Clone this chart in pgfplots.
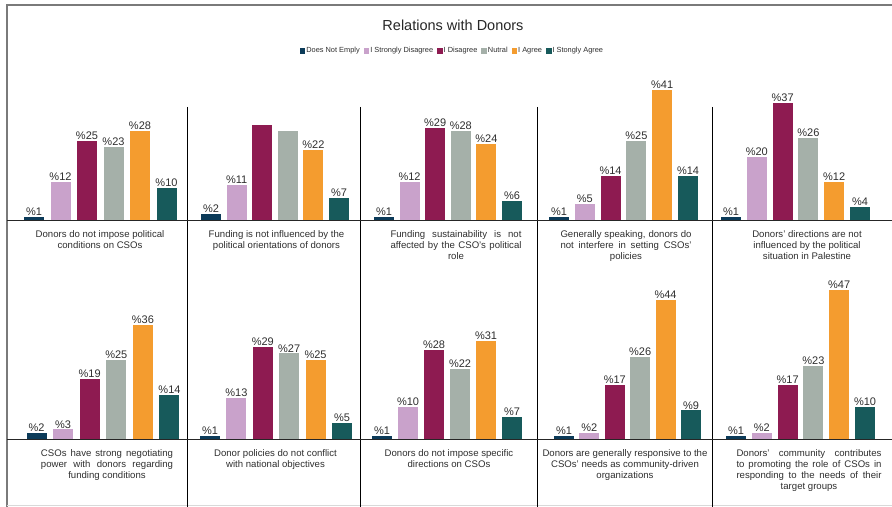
\documentclass[border=0pt]{standalone}
\usepackage{fontspec}
\setmainfont{Liberation Sans}
\usepackage{pgfplots}
\pgfplotsset{compat=1.18}

\definecolor{cNA}{HTML}{0C3B59}
\definecolor{cSD}{HTML}{C9A2CB}
\definecolor{cD}{HTML}{8E1B51}
\definecolor{cN}{HTML}{A5B0A9}
\definecolor{cA}{HTML}{F49C2F}
\definecolor{cSA}{HTML}{175A5B}
\definecolor{lab}{HTML}{2E2E2E}
\definecolor{frame}{HTML}{7A7A7A}

\newcommand\tfont{\fontsize{9.6bp}{11bp}\selectfont}

\pgfplotsset{
  sqleg/.style={legend image code/.code={\fill[##1] (0bp,-2.75bp) rectangle (5.5bp,2.75bp);}},
  panel/.style={hide axis, scale only axis, height=158.5bp,
    ymin=0, ymax=50, xmin=-0.5, xmax=5.5,
    ybar, bar width=20bp, bar shift=0pt, clip=false, anchor=south west,
    /pgf/number format/assume math mode=true,
    nodes near coords={\%\pgfmathprintnumber{\pgfplotspointmeta}},
    every node near coord/.append style={font=\fontsize{11bp}{13bp}\selectfont, text=lab, inner sep=1.1bp},
    sqleg},
}

\newcommand\bars[6]{%
  \addplot[fill=cNA, draw=none] coordinates {(0,#1)};
  \addplot[fill=cSD, draw=none] coordinates {(1,#2)};
  \addplot[fill=cD,  draw=none] coordinates {(2,#3)};
  \addplot[fill=cN,  draw=none] coordinates {(3,#4)};
  \addplot[fill=cA,  draw=none] coordinates {(4,#5)};
  \addplot[fill=cSA, draw=none] coordinates {(5,#6)};
}

\begin{document}
\begin{tikzpicture}[x=1bp, y=1bp]
\useasboundingbox (0,0) rectangle (892,507);

% frame and separators
\draw[frame, line width=1.5bp] (7,0) -- (7,502) -- (892,502);
\draw[black!15, line width=1bp] (7,1.5) -- (892,1.5);
\foreach \sx in {187,360,537,712} \draw[black, line width=0.8bp] (\sx,400) -- (\sx,0);
\draw[black!85, line width=0.8bp] (7,287) -- (892,287);
\draw[black!85, line width=0.8bp] (7,68) -- (892,68);

\node[font=\fontsize{14.5bp}{17bp}\selectfont, text=black!85] at (453,481.5) {Relations with Donors};

% ---------- top row ----------
\begin{axis}[panel, at={(20.75bp,287bp)}, width=159bp,
  legend columns=6,
  legend style={draw=none, fill=none, at={(2.712,1.066)}, anchor=center,
    font=\fontsize{7.4bp}{9bp}\selectfont, text=lab, inner sep=0pt,
    nodes={inner sep=1bp},
    /tikz/every even column/.append style={column sep=3bp}},
  legend entries={Does Not Emply, I Strongly Disagree, I Disagree, Nutral, I Agree, I Stongly Agree}]
\bars{1}{12}{25}{23}{28}{10}
\end{axis}

\begin{axis}[panel, at={(198.2bp,287bp)}, width=153.6bp]
  \addplot[fill=cNA, draw=none] coordinates {(0,2)};
  \addplot[fill=cSD, draw=none] coordinates {(1,11)};
  \addplot[fill=cD,  draw=none, nodes near coords={}] coordinates {(2,30)};
  \addplot[fill=cN,  draw=none, nodes near coords={}] coordinates {(3,28)};
  \addplot[fill=cA,  draw=none] coordinates {(4,22)};
  \addplot[fill=cSA, draw=none] coordinates {(5,7)};
\end{axis}

\begin{axis}[panel, at={(371.2bp,287bp)}, width=153.6bp]
\bars{1}{12}{29}{28}{24}{6}
\end{axis}

\begin{axis}[panel, at={(546.1bp,287bp)}, width=154.8bp]
\bars{1}{5}{14}{25}{41}{14}
\end{axis}

\begin{axis}[panel, at={(718.1bp,287bp)}, width=154.8bp]
\bars{1}{20}{37}{26}{12}{4}
\end{axis}

% ---------- bottom row ----------
\begin{axis}[panel, at={(23.2bp,68bp)}, width=159.6bp]
\bars{2}{3}{19}{25}{36}{14}
\end{axis}

\begin{axis}[panel, at={(196.8bp,68bp)}, width=158.4bp]
\bars{1}{13}{29}{27}{25}{5}
\end{axis}

\begin{axis}[panel, at={(369bp,68bp)}, width=156bp]
\bars{1}{10}{28}{22}{31}{7}
\end{axis}

\begin{axis}[panel, at={(551.3bp,68bp)}, width=152.4bp]
\bars{1}{2}{17}{26}{44}{9}
\end{axis}

\begin{axis}[panel, at={(723.1bp,68bp)}, width=154.8bp]
\bars{1}{2}{17}{23}{47}{10}
\end{axis}

% ---------- panel captions ----------
\begin{scope}[every node/.style={font=\tfont, text=lab, align=center, anchor=north, inner sep=0pt}]
\node at (100,277) {Donors do not impose political\\conditions on CSOs};
\node at (276.5,277) {Funding is not influenced by the\\political orientations of donors};
\node at (456,277) {\makebox[131bp][s]{Funding sustainability is not}\\\makebox[131bp][s]{affected by the CSO's political}\\role};
\node at (626,277) {\makebox[131bp][s]{Generally speaking, donors do}\\\makebox[131bp][s]{not interfere in setting CSOs'}\\policies};
\node at (807,277) {Donors' directions are not\\influenced by the political\\situation in Palestine};
\node at (107,58) {\makebox[132bp][s]{CSOs have strong negotiating}\\\makebox[132bp][s]{power with donors regarding}\\funding conditions};
\node at (275.5,58) {Donor policies do not conflict\\with national objectives};
\node at (449,58) {Donors do not impose specific\\directions on CSOs};
\node at (625,58) {Donors are generally responsive to the\\CSOs' needs as community-driven\\organizations};
\node at (809,58) {\makebox[145bp][s]{Donors' community contributes}\\\makebox[145bp][s]{to promoting the role of CSOs in}\\\makebox[145bp][s]{responding to the needs of their}\\target groups};
\end{scope}
\end{tikzpicture}
\end{document}
